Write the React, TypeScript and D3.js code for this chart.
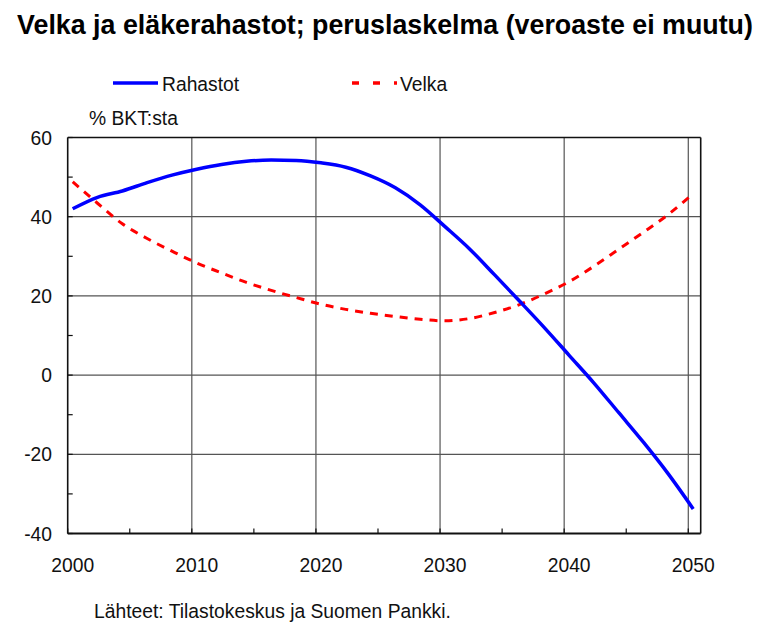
import React from "react";
import * as d3 from "d3";

const years = [2000, 2002, 2004, 2006, 2008, 2010, 2012, 2014, 2016, 2018, 2020, 2022, 2024, 2026, 2028, 2030, 2032, 2034, 2036, 2038, 2040, 2042, 2044, 2046, 2048, 2050];
const rahastot = [42, 44.9, 46.5, 48.6, 50.5, 52, 53.2, 54, 54.3, 54.2, 53.6, 52.5, 50.3, 47.3, 43, 37.5, 31.8, 25.3, 18.7, 12, 5, -2, -9.5, -17, -25, -33.8];
const velka = [48.8, 43.4, 38.2, 34.5, 31.3, 28.3, 25.8, 23.4, 21.4, 19.6, 17.9, 16.6, 15.6, 14.8, 14.1, 13.7, 14.3, 15.8, 17.8, 20.5, 23.6, 27.5, 31.8, 36.1, 40.6, 45.8];
const yTicks = [-40, -20, 0, 20, 40, 60];
const yMinor = [-30, -10, 10, 30, 50];
const xTicks = [2000, 2010, 2020, 2030, 2040, 2050];
const xMinor = [2005, 2015, 2025, 2035, 2045];
const title = "Velka ja eläkerahastot; peruslaskelma (veroaste ei muutu)";
const seriesNames = ["Rahastot", "Velka"];
const unitLabel = "% BKT:sta";
const source = "Lähteet: Tilastokeskus ja Suomen Pankki.";

const W = 760, H = 625;
const L = 67.7, R = 700.7, T = 137.5, B = 533.5;
const OFFSET = 0.4;
const FONT = "'Liberation Sans', Arial, Helvetica, sans-serif";

export default function App() {
  const x = d3.scaleLinear().domain([2000, 2051]).range([L, R]);
  const y = d3.scaleLinear().domain([-40, 60]).range([B, T]);
  const line = d3
    .line<[number, number]>()
    .x((d) => x(d[0] + OFFSET))
    .y((d) => y(d[1]))
    .curve(d3.curveMonotoneX);
  const blue = line(years.map((yr, i) => [yr, rahastot[i]] as [number, number])) || "";
  const red = line(years.map((yr, i) => [yr, velka[i]] as [number, number])) || "";

  return (
    <svg width={W} height={H} style={{ position: "absolute", left: 0, top: 0, background: "#fff" }} fontFamily={FONT}>
      <rect x={0} y={0} width={W} height={H} fill="#fff" />
      <text x={385} y={34} textAnchor="middle" fontSize={26.8} fontWeight="bold" fill="#000">{title}</text>

      {/* legend */}
      <line x1={113} x2={158} y1={83} y2={83} stroke="#0000ff" strokeWidth={3.5} />
      <text x={162} y={90.5} fontSize={19.3} fill="#111">{seriesNames[0]}</text>
      <line x1={352} x2={397} y1={83} y2={83} stroke="#ff0000" strokeWidth={3.5} strokeDasharray="7,14" />
      <text x={400} y={90.5} fontSize={19.3} fill="#111">{seriesNames[1]}</text>
      <text x={89} y={124.5} fontSize={19.3} fill="#111">{unitLabel}</text>

      {/* gridlines */}
      {yTicks.filter((v) => v > -40 && v < 60).map((v) => (
        <line key={"hg" + v} x1={L} x2={R} y1={y(v)} y2={y(v)} stroke="#555" strokeWidth={1.2} />
      ))}
      {xTicks.filter((v) => v > 2000).map((v) => (
        <line key={"vg" + v} x1={x(v)} x2={x(v)} y1={T} y2={B} stroke="#555" strokeWidth={1.2} />
      ))}

      {/* frame */}
      <line x1={L} x2={R} y1={T} y2={T} stroke="#111" strokeWidth={1.6} />
      <line x1={R} x2={R} y1={T} y2={B} stroke="#111" strokeWidth={1.6} />
      <line x1={L} x2={L} y1={T} y2={B} stroke="#111" strokeWidth={1.6} />
      <line x1={L} x2={R} y1={B} y2={B} stroke="#111" strokeWidth={2} />

      {/* ticks */}
      {yTicks.concat(yMinor).map((v) => (
        <line key={"yt" + v} x1={L} x2={L + 5} y1={y(v)} y2={y(v)} stroke="#111" strokeWidth={1.2} />
      ))}
      {xTicks.concat(xMinor).map((v) => (
        <line key={"xt" + v} x1={x(v)} x2={x(v)} y1={B} y2={B - 5} stroke="#111" strokeWidth={1.2} />
      ))}

      {/* tick labels */}
      {yTicks.map((v) => (
        <text key={"yl" + v} x={52} y={y(v) + 7} textAnchor="end" fontSize={19.3} fill="#111">{v}</text>
      ))}
      {xTicks.map((v) => (
        <text key={"xl" + v} x={x(v) + 5} y={572} textAnchor="middle" fontSize={19.3} fill="#111">{v}</text>
      ))}

      {/* series */}
      <path d={red} fill="none" stroke="#ff0000" strokeWidth={3} strokeDasharray="8,7" />
      <path d={blue} fill="none" stroke="#0000ff" strokeWidth={3.5} />

      <text x={94} y={618} fontSize={19.3} fill="#111">{source}</text>
    </svg>
  );
}
